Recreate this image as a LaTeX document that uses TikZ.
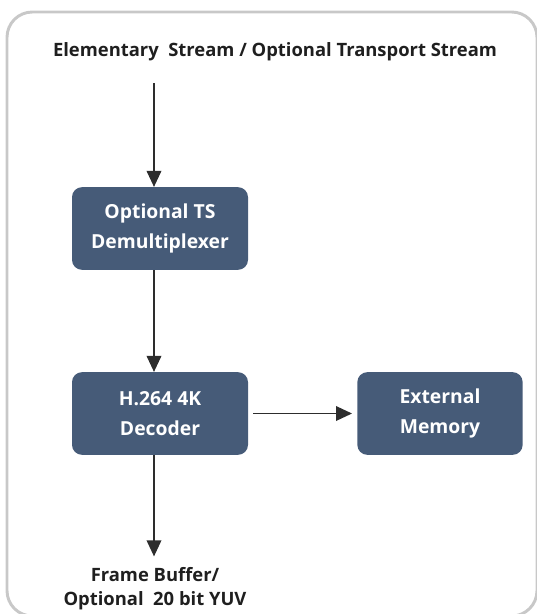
\documentclass[tikz,border=0pt]{standalone}
\usepackage{fontspec}
\setmainfont{Open Sans}
\usetikzlibrary{arrows.meta,positioning}
\definecolor{blockblue}{RGB}{70,91,120}
\definecolor{framegray}{RGB}{200,200,200}
\definecolor{arrowgray}{RGB}{45,45,45}
\tikzset{
  block/.style={fill=blockblue, rounded corners=7.5pt, minimum width=132pt, minimum height=62pt,
    text=white, font=\fontsize{14.5}{22}\selectfont\bfseries, align=center},
  flow/.style={draw=arrowgray, line width=1pt, -{Triangle[length=12pt,width=11pt]}},
  label/.style={font=\fontsize{13.8}{18}\selectfont\bfseries, text=black!88, align=center}
}
\begin{document}
\begin{tikzpicture}[x=0.75pt,y=-0.75pt]
  \useasboundingbox (0,0) rectangle (536,614);
  % outer frame
  \draw[framegray, line width=2.2pt, rounded corners=19pt] (7,12) rectangle (537,616);
  \node[label] (input) at (275,52) {Elementary\ \ Stream / Optional Transport Stream};
  \node[block] (demux) at (160,228.5) {Optional TS\\Demultiplexer};
  \node[block] (decoder) at (160,413.5) {H.264 4K\\Decoder};
  \node[block, minimum width=124pt] (memory) at (440,413.5) {External\\Memory};
  \node[label] (output) at (155,589) {Frame Buffer/\\Optional\ \ 20 bit YUV};
  % connectors
  \coordinate (in) at (154,83);
  \draw[flow] (in) -- (in |- demux.north);
  \draw[flow] (in |- demux.south) -- (in |- decoder.north);
  \draw[flow] (decoder.east) ++(5,0) coordinate (d) -- (memory.west -| 352,0) ;
  \draw[flow, shorten >=5pt] (in |- decoder.south) -- (in |- output.north);
\end{tikzpicture}
\end{document}
